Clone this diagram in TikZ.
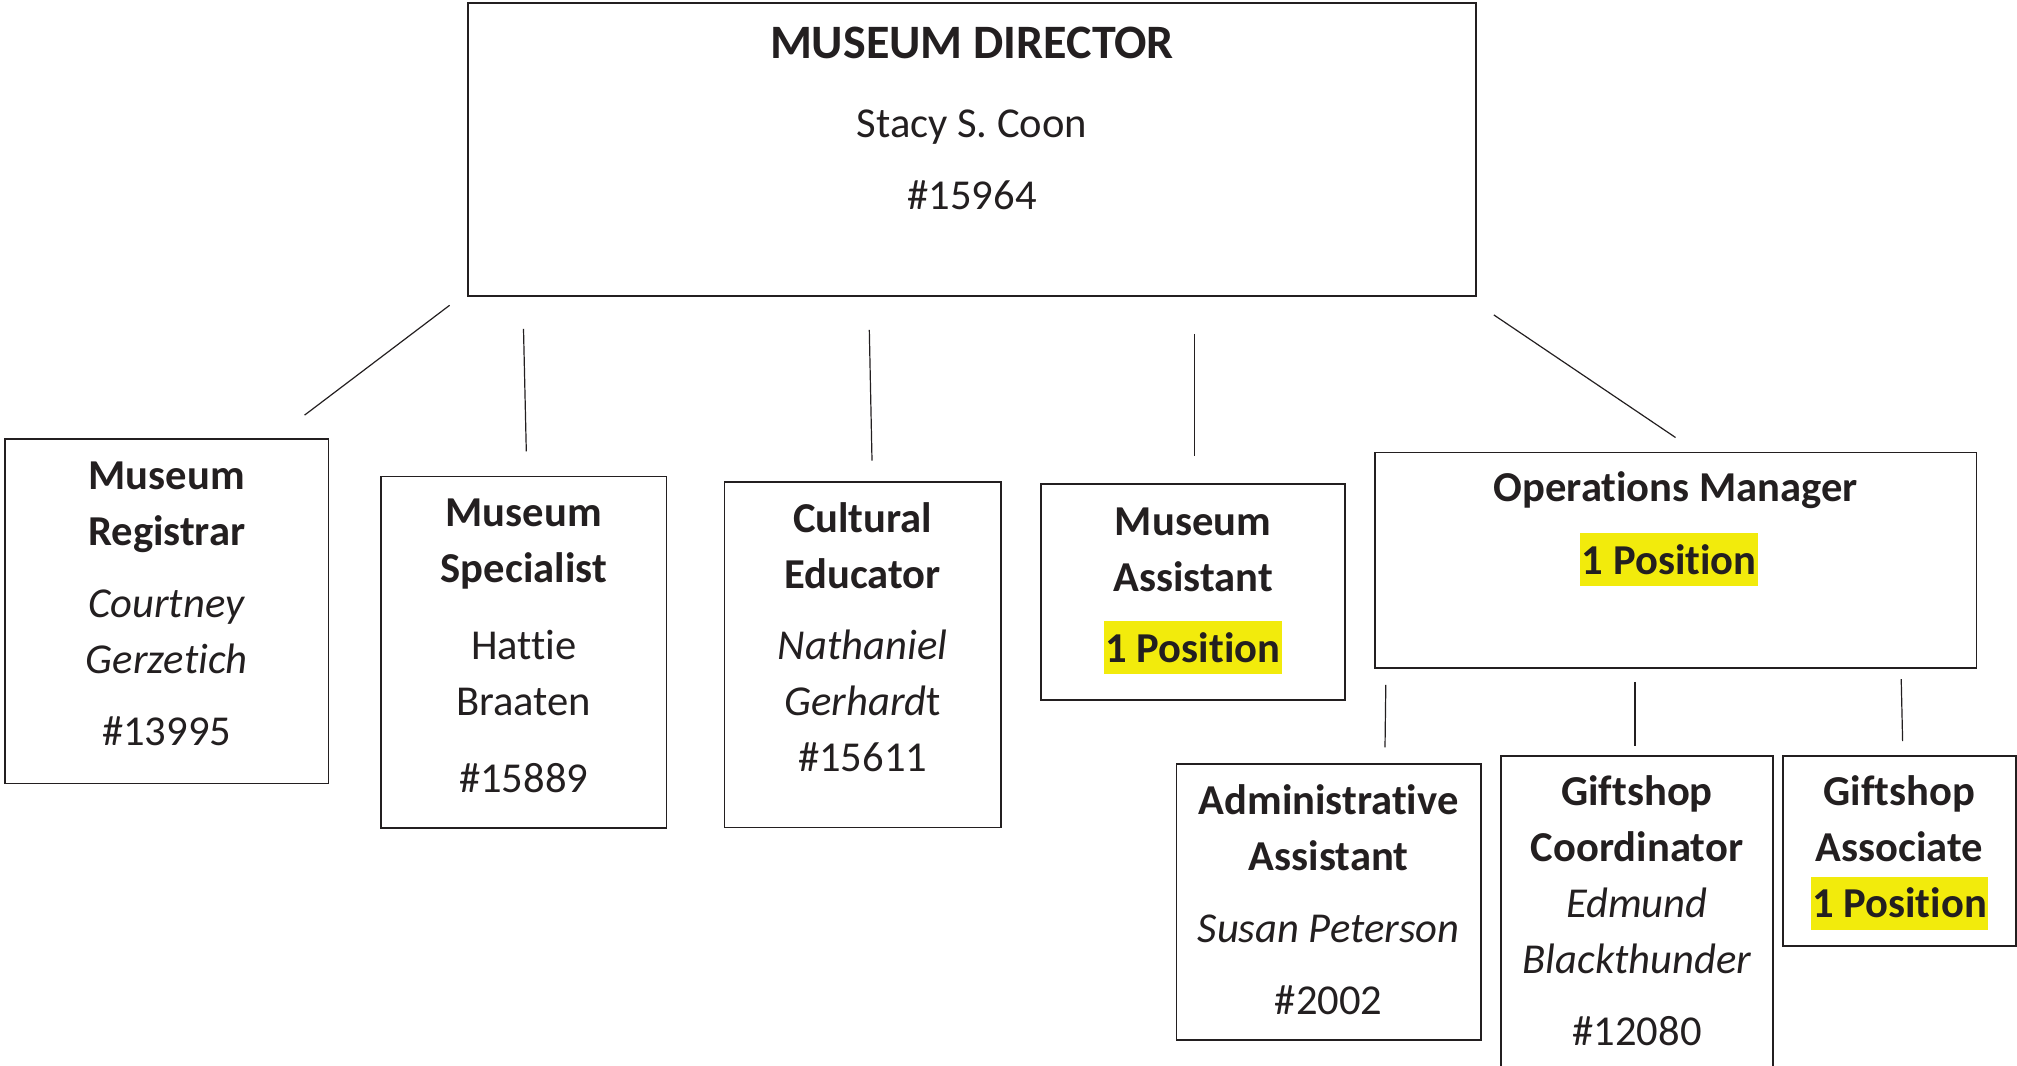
\documentclass[tikz,border=0pt]{standalone}
\usepackage{fontspec}
\setmainfont{Carlito}[Ligatures=NoCommon]
\usetikzlibrary{calc}
\frenchspacing
\definecolor{ink}{HTML}{231F20}
\definecolor{hlyellow}{RGB}{242,235,12}
% yellow marker behind a vacancy note
\newcommand\hlpos[1]{{\setlength{\fboxsep}{0pt}\colorbox{hlyellow}{\hspace{1.5pt}\rule[-12pt]{0pt}{53pt}#1\hspace{1.5pt}}}}
\begin{document}
\begin{tikzpicture}[x=1pt,y=-1pt,
  box/.style={draw=ink, line width=1.8pt, inner sep=0pt, rectangle},
  link/.style={draw=ink, line width=1.2pt},
  boxtext/.style={text=ink, align=flush center, anchor=base, inner sep=0pt,
    font=\fontsize{42.6}{56}\selectfont},
  ]
\useasboundingbox (0,0) rectangle (2017,1065);

% boxes
\node[box, minimum width=1008pt, minimum height=293pt] (dir) at (972,149.5) {};
\node[box, minimum width=323.5pt, minimum height=344.5pt] (reg) at (166.75,611.25) {};
\node[box, minimum width=285.5pt, minimum height=351.5pt] (spec) at (523.75,652.25) {};
\node[box, minimum width=276.2pt, minimum height=345.5pt] (cult) at (862.6,654.75) {};
\node[box, minimum width=304pt, minimum height=216pt] (asst) at (1193,592) {};
\node[box, minimum width=601.5pt, minimum height=215.8pt] (ops) at (1675.75,560.4) {};
\node[box, minimum width=304.2pt, minimum height=276pt] (adm) at (1328.6,902) {};
\node[box, minimum width=272pt, minimum height=319pt] (coord) at (1637,915.5) {};
\node[box, minimum width=233pt, minimum height=190pt] (assoc) at (1899.5,851) {};

% texts
\node[boxtext, text width=980pt] (dirtext) at ([shift={(0,56.3)}]dir.north)
  {{\fontsize{48}{56}\selectfont\bfseries MUSEUM DIRECTOR}\\[23pt]
   Stacy S. Coon\\[15.7pt] \#15964};
\node[boxtext, text width=300pt] (regtext) at ([shift={(0,51)}]reg.north)
  {\textbf{Museum}\\\textbf{Registrar}\\[16.3pt]
   \textit{Courtney}\\\textit{Gerzetich}\\[16pt] \#13995};
\node[boxtext, text width=270pt] (spectext) at ([shift={(0,50.8)}]spec.north)
  {\textbf{Museum}\\\textbf{Specialist}\\[20.7pt]
   Hattie\\Braaten\\[21.3pt] \#15889};
\node[boxtext, text width=260pt] (culttext) at ([shift={(0,51.3)}]cult.north)
  {\textbf{Cultural}\\\textbf{Educator}\\[15.4pt]
   \textit{Nathaniel}\\\textit{Gerhard}t\\ \#15611};
\node[boxtext, text width=290pt] (assttext) at ([shift={(0,52)}]asst.north)
  {\textbf{Museum}\\\textbf{Assistant}\\[15pt] \textbf{\hlpos{1 Position}}};
\node[boxtext, text width=580pt] (opstext) at ([shift={(0,50.2)}]ops.north)
  {\textbf{Operations Manager}\\[16.3pt] \textbf{\hlpos{1 Position}}\kern13pt};
\node[boxtext, text width=300pt] (admtext) at ([shift={(0,51)}]adm.north)
  {\textbf{Administrative}\\\textbf{Assistant}\\[16.6pt]
   \textit{Susan Peterson}\\[15.7pt] \#2002};
\node[boxtext, text width=270pt] (coordtext) at ([shift={(0,50.7)}]coord.north)
  {\textbf{Giftshop}\\\textbf{Coordinator}\\
   \textit{Edmund}\\\textit{Blackthunder}\\[15.7pt] \#12080};
\node[boxtext, text width=230pt] (assoctext) at ([shift={(0,50.7)}]assoc.north)
  {\textbf{Giftshop}\\\textbf{Associate}\\ \textbf{\hlpos{1 Position}}};

% reporting lines
\draw[link] ([shift={(-17.5,8.4)}]dir.south west) -- ([shift={(137.85,-23)}]reg.north);
\draw[link] ([shift={(56.4,32)}]dir.south west) -- ([shift={(2.55,-24.2)}]spec.north);
\draw[link] ([shift={(402.2,33)}]dir.south west) -- ([shift={(9.4,-20.5)}]cult.north);
\draw[link] ([shift={(222.5,37)}]dir.south) -- ([shift={(1.5,-27.3)}]asst.north);
\draw[link] ([shift={(16.9,18)}]dir.south east) -- ([shift={(-0.25,-14.1)}]ops.north);
\draw[link] ([shift={(11.7,15.7)}]ops.south west) -- ([shift={(56.4,-15.7)}]adm.north);
\draw[link] ([shift={(-40.75,12.7)}]ops.south) -- ([shift={(-2,-8.7)}]coord.north);
\draw[link] ([shift={(-76.2,10)}]ops.south east) -- ([shift={(3.1,-14)}]assoc.north);
\end{tikzpicture}
\end{document}
